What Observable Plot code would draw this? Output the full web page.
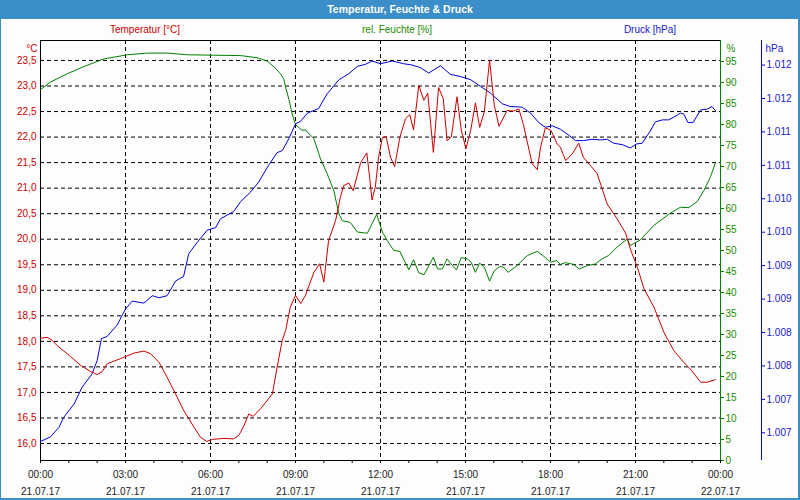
<!DOCTYPE html>
<html><head><meta charset="utf-8">
<script src="https://cdn.jsdelivr.net/npm/d3@7"></script>
<script src="https://cdn.jsdelivr.net/npm/@observablehq/plot@0.6"></script>
<style>
body{margin:0;background:#fff;}
#wrap{position:relative;width:800px;height:500px;overflow:hidden;background:#fdfdfd;font-family:"Liberation Sans",Arial,sans-serif;}
#title{position:absolute;left:0;top:0;width:800px;height:19px;background:#3b8ec7;color:#fff;font-weight:bold;font-size:10.5px;line-height:19px;text-align:center;}
.leg{position:absolute;top:24px;font-size:10px;line-height:12px;transform:translateX(-50%);white-space:nowrap;}
#chart{position:absolute;left:0;top:20px;}
.bl{position:absolute;background:#3b8ec7;}
</style></head><body>
<div id="wrap">
  <div id="title">Temperatur, Feuchte &amp; Druck</div>
  <div class="leg" style="left:145px;color:#cc0000">Temperatur [°C]</div>
  <div class="leg" style="left:397px;color:#1e8c00">rel. Feuchte [%]</div>
  <div class="leg" style="left:650px;color:#1a1acc">Druck [hPa]</div>
  <div id="chart"></div>
  <div class="bl" style="left:0;top:0;width:1px;height:500px"></div>
  <div class="bl" style="left:798px;top:0;width:2px;height:500px"></div>
  <div class="bl" style="left:0;top:498px;width:800px;height:2px"></div>
</div>
<script>
// ---- data (minutes since 21.07.17 00:00) ----
const tempMinutes = [0,14,25,35,64,85,106,120,131,141,169,198,219,233,251,268,286,303,325,339,352,364,388,409,420,431,441,450,466,491,503,512,519,529,540,551,561,579,591,600,610,625,635,642,653,662,678,691,697,702,709,716,724,732,741,750,761,773,782,790,801,812,820,832,843,853,861,870,882,891,901,911,921,930,940,951,961,971,988,1002,1013,1023,1041,1052,1059,1069,1081,1094,1101,1112,1126,1140,1149,1165,1179,1200,1221,1239,1249,1264,1278,1299,1320,1341,1362,1376,1398,1412,1429];
const tempValues = [18.06,18.08,18.02,17.92,17.70,17.53,17.41,17.35,17.41,17.56,17.66,17.77,17.81,17.76,17.59,17.30,16.97,16.65,16.32,16.12,16.04,16.08,16.10,16.09,16.16,16.35,16.58,16.53,16.68,16.97,17.59,18.02,18.21,18.67,18.90,18.74,18.90,19.35,19.52,19.16,19.97,20.37,20.82,21.05,21.10,20.95,21.50,21.69,21.21,20.77,21.02,21.61,21.99,22.01,21.61,21.42,22.00,22.36,22.44,22.14,23.01,22.72,22.86,21.70,22.97,22.75,21.93,22.00,22.79,22.14,21.77,22.13,22.67,22.19,22.50,23.51,22.62,22.21,22.52,22.51,22.55,22.23,21.48,21.36,21.80,22.18,22.13,21.87,21.80,21.54,21.67,21.88,21.61,21.44,21.28,20.69,20.40,20.12,19.81,19.45,19.03,18.67,18.18,17.82,17.59,17.46,17.20,17.20,17.25];

const humMinutes = [0,21,57,92,134,184,226,268,311,367,424,459,480,494,508,515,519,526,533,540,554,561,579,593,607,621,632,639,656,671,692,712,724,734,748,761,780,790,801,812,832,841,851,861,872,881,891,904,912,921,930,940,951,961,973,981,990,1009,1031,1052,1066,1080,1093,1101,1112,1129,1141,1158,1175,1189,1203,1221,1242,1249,1270,1299,1334,1355,1373,1391,1405,1419,1429];
const humValues = [88.3,90.1,92.1,93.8,95.6,96.6,97.0,97.0,96.6,96.5,96.4,95.9,95.1,93.8,92.1,90.9,88.9,86.0,82.5,80.0,78.6,78.7,76.6,71.8,68.3,64.3,58.7,57.1,56.7,54.4,54.1,58.6,54.4,52.4,50.0,49.8,45.4,47.8,44.7,44.2,48.4,45.6,45.6,48.0,46.4,45.4,48.3,48.0,47.2,44.8,47.0,46.0,42.7,45.2,46.2,46.0,44.8,46.4,48.8,49.8,48.6,47.2,47.6,46.7,47.1,46.7,45.6,46.4,46.8,48.0,48.8,50.8,52.7,51.2,52.5,56.0,58.9,60.3,60.2,61.7,64.3,67.6,70.8];

const presMinutes = [0,21,39,49,71,88,109,120,129,141,162,180,194,219,237,251,268,286,303,314,332,353,371,381,409,424,445,462,483,501,512,526,540,551,565,589,607,632,653,671,688,702,720,745,769,787,805,822,847,868,889,911,932,953,978,995,1020,1038,1055,1069,1084,1101,1119,1133,1150,1168,1186,1200,1214,1232,1249,1262,1274,1291,1302,1317,1330,1341,1355,1362,1371,1382,1398,1412,1422,1429];
const presValues = [1006.37,1006.44,1006.58,1006.73,1006.93,1007.18,1007.38,1007.58,1007.91,1007.94,1008.11,1008.35,1008.47,1008.44,1008.55,1008.52,1008.55,1008.77,1008.84,1009.18,1009.35,1009.53,1009.57,1009.70,1009.81,1009.96,1010.10,1010.25,1010.50,1010.69,1010.72,1010.90,1011.12,1011.16,1011.28,1011.35,1011.57,1011.78,1011.87,1011.98,1012.01,1012.06,1012.02,1012.06,1012.02,1012.00,1011.96,1011.88,1011.99,1011.86,1011.83,1011.78,1011.68,1011.58,1011.42,1011.38,1011.37,1011.28,1011.14,1011.07,1011.09,1011.04,1010.95,1010.87,1010.87,1010.89,1010.88,1010.89,1010.83,1010.81,1010.76,1010.82,1010.83,1011.01,1011.15,1011.18,1011.18,1011.22,1011.28,1011.27,1011.14,1011.14,1011.33,1011.34,1011.38,1011.32];

// ---- ticks ----
const tempTicks = [16.0,16.5,17.0,17.5,18.0,18.5,19.0,19.5,20.0,20.5,21.0,21.5,22.0,22.5,23.0,23.5];
const humTicks = [0,5,10,15,20,25,30,35,40,45,50,55,60,65,70,75,80,85,90,95];
const presTicks = [1012.0,1011.5,1011.0,1010.5,1010.0,1009.5,1009.0,1008.5,1008.0,1007.5,1007.0,1006.5];
const presTickLabels = ["1.012","1.012","1.011","1.011","1.010","1.010","1.009","1.009","1.008","1.008","1.007","1.007"];
const xTickMinutes = [0,180,360,540,720,900,1080,1260,1440];
const xTickTimes = ["00:00","03:00","06:00","09:00","12:00","15:00","18:00","21:00","00:00"];
const xTickDates = ["21.07.17","21.07.17","21.07.17","21.07.17","21.07.17","21.07.17","21.07.17","21.07.17","22.07.17"];
const xMinorMinutes = d3.range(0, 1441, 60);
const xGridMinutes = [180,360,540,720,900,1080,1260];

// ---- scale ranges ----
const T_MIN = 15.667, T_MAX = 23.891;
const HUM_DOMAIN = [0, 100];
const PRES_DOMAIN = [1006.086, 1012.367];
const humToT = d3.scaleLinear(HUM_DOMAIN, [T_MIN, T_MAX]);
const presToT = d3.scaleLinear(PRES_DOMAIN, [T_MIN, T_MAX]);

const RED = "#cc0000", GREEN = "#008000", BLUE = "#0000dd";
const RED_T = "#cc0000", GREEN_T = "#1e8c00", BLUE_T = "#1a1acc";

const temp = tempMinutes.map((m, i) => ({m, v: tempValues[i]}));
const hum = humMinutes.map((m, i) => ({m, v: humToT(humValues[i])}));
const pres = presMinutes.map((m, i) => ({m, v: presToT(presValues[i])}));

const humTickPos = humTicks.map(humToT);
const presTickPos = presTicks.map(presToT);
const fmtTemp = d => d.toFixed(1).replace(".", ",");
const fmtHum = d => String(Math.round(humToT.invert(d)));
const fmtPres = d => presTickLabels[presTickPos.findIndex(p => Math.abs(p - d) < 1e-6)];
const fmtX = d => { const i = xTickMinutes.indexOf(d); return xTickTimes[i] + "\n" + xTickDates[i]; };

const chart = Plot.plot({
  width: 800, height: 480,
  marginTop: 20, marginBottom: 40, marginLeft: 40, marginRight: 80,
  style: {fontFamily: '"Liberation Sans", Arial, sans-serif', fontSize: "10px", background: "transparent", color: "#000"},
  x: {domain: [0, 1440], axis: null},
  y: {domain: [T_MIN, T_MAX], axis: null},
  marks: [
    Plot.ruleY(tempTicks, {stroke: "#000", strokeDasharray: "4,3"}),
    Plot.ruleX(xGridMinutes, {stroke: "#000", strokeDasharray: "4,3"}),
    Plot.ruleY([T_MAX], {stroke: "#000"}),
    Plot.ruleY([T_MIN], {stroke: "#000"}),
    Plot.ruleX([0], {stroke: "#000"}),
    Plot.ruleX([1440], {stroke: GREEN}),
    Plot.ruleX([1440], {stroke: BLUE, dx: 41}),
    Plot.line(hum, {x: "m", y: "v", stroke: GREEN, strokeWidth: 1}),
    Plot.line(pres, {x: "m", y: "v", stroke: BLUE, strokeWidth: 1}),
    Plot.line(temp, {x: "m", y: "v", stroke: RED, strokeWidth: 1}),
    Plot.axisY(tempTicks, {anchor: "left", tickSize: 0, tickPadding: 4, tickFormat: fmtTemp, fill: RED_T, stroke: RED_T, label: null}),
    Plot.axisY(humTickPos, {anchor: "right", tickSize: 3, tickPadding: 2, tickFormat: fmtHum, fill: GREEN_T, stroke: GREEN, label: null}),
    Plot.axisY(presTickPos, {anchor: "right", dx: 41, tickSize: 3, tickPadding: 2, tickFormat: fmtPres, fill: BLUE_T, stroke: BLUE, label: null}),
    Plot.axisX(xMinorMinutes, {anchor: "bottom", tickSize: 3, tickFormat: () => "", label: null, stroke: "#000"}),
    Plot.axisX(xTickMinutes, {anchor: "bottom", tickSize: 3, tickPadding: 2, tickFormat: fmtX, lineHeight: 1.7, fill: "#222", label: null}),
    Plot.text(["°C"], {frameAnchor: "top-left", dx: -3, dy: 4, textAnchor: "end", fill: RED_T}),
    Plot.text(["%"], {frameAnchor: "top-right", dx: 6, dy: 4, textAnchor: "start", fill: GREEN_T}),
    Plot.text(["hPa"], {frameAnchor: "top-right", dx: 45, dy: 4, textAnchor: "start", fill: BLUE_T})
  ]
});
document.getElementById("chart").appendChild(chart);
</script>
</body></html>
